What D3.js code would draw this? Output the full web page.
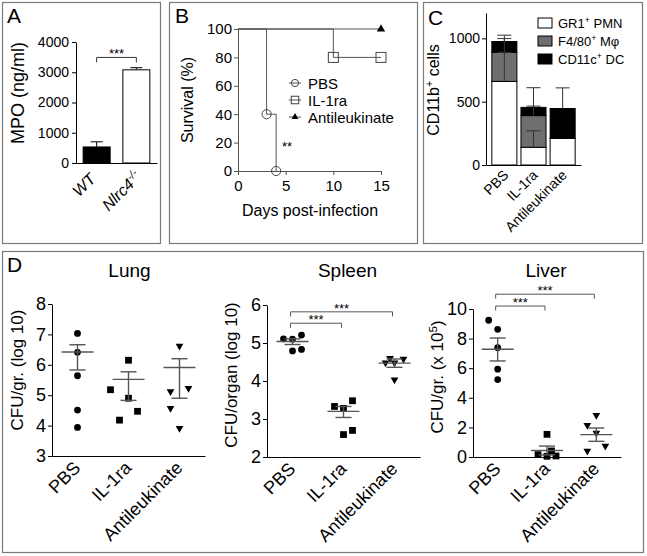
<!DOCTYPE html>
<html><head><meta charset="utf-8">
<script src="https://cdn.jsdelivr.net/npm/d3@7"></script>
<style>
body{margin:0;background:#fff;}
svg{display:block;font-family:"Liberation Sans", Arial, Helvetica, sans-serif;}
</style></head><body>
<svg id="fig" width="647" height="556"></svg>
<script>
// ---------- DATA ----------
// Panel A
const mpoGroups = ["WT", "Nlrc4"];
const mpoValues = [530, 3080];
const mpoErrors = [170, 70];
const mpoTicks = [0, 1000, 2000, 3000, 4000];
const mpoSigLevel = 3490;

// Panel B (Kaplan-Meier steps)
const pbsDays = [0, 3, 4];
const pbsSurvival = [100, 40, 0];
const il1raDays = [0, 10, 15];
const il1raSurvival = [100, 80, 80];
const antiDays = [0, 15];
const antiSurvival = [100, 100];
const dayTicks = [0, 5, 10, 15];
const survivalTicks = [0, 20, 40, 60, 80, 100];
const survivalLegend = ["PBS", "IL-1ra", "Antileukinate"];

// Panel C (stacked bars)
const cellGroups = ["PBS", "IL-1ra", "Antileukinate"];
const gr1Cells = [660, 140, 210];
const gr1Err = [230, 130, 0];
const f480Cells = [230, 250, 0];
const f480Err = [108, 75, 0];
const cd11cCells = [85, 65, 236];
const cd11cErr = [50, 155, 163];
const cellTicks = [0, 500, 1000];

// Panel D
const treatments = ["PBS", "IL-1ra", "Antileukinate"];
const lungValues = [[7.03, 6.41, 5.64, 4.51, 3.94], [6.15, 5.18, 4.90, 4.47, 4.18], [6.62, 5.23, 5.12, 4.57, 3.91]];
const lungSlots = [[0, 0, 0, 0, 0], [0, -2, 0, 1, -1], [0, 1, -1, -1, 0]];
const lungMean = [6.42, 5.52, 5.91];
const lungHi = [6.66, 5.77, 6.20];
const lungLo = [5.83, 4.83, 4.90];
const lungTicks = [3, 4, 5, 6, 7, 8];

const spleenValues = [[5.11, 5.10, 5.21, 4.79, 4.83], [3.33, 3.28, 3.48, 2.70, 2.59], [4.60, 4.58, 4.48, 4.48, 4.03]];
const spleenSlots = [[-1, 0, 1, 0, 1], [-1, 0, 1, 1, 0], [-0.5, 1, -1, 0, 0]];
const spleenMean = [5.04, 3.20, 4.47];
const spleenHi = [5.11, 3.33, 4.58];
const spleenLo = [4.96, 3.04, 4.36];
const spleenTicks = [2, 3, 4, 5, 6];
const spleenSig = [[0, 2, 5.82], [0, 1, 5.52]];

const liverValues = [[9.24, 8.63, 7.39, 5.93, 5.23], [1.53, 0.16, 0.05, 0.07, 0.41], [2.82, 2.14, 1.62, 0.74, 0.41]];
const liverSlots = [[-1, 0, 0, 0, 0], [0, -1, 0, 1, 0.5], [0, -1, 0, 1, -1]];
const liverMean = [7.28, 0.44, 1.51];
const liverHi = [8.04, 0.74, 1.96];
const liverLo = [6.49, 0.14, 1.06];
const liverTicks = [0, 2, 4, 6, 8, 10];
const liverSig = [[0, 2, 11.0], [0, 1, 10.2]];

// ---------- DRAWING ----------
const FONT = '"Liberation Sans", Arial, Helvetica, sans-serif';
const svg = d3.select("#fig");
const fmt = d3.format("d");

function rich(sel, parts, fs) {
  let shift = 0;
  parts.forEach(p => {
    const ts = sel.append("tspan").text(p.t);
    if (p.sup) { ts.attr("font-size", fs * 0.68).attr("dy", -fs * 0.38); shift = fs * 0.38; }
    else if (shift) { ts.attr("dy", shift); shift = 0; }
  });
}
function styleAxis(g, color, fs) {
  g.attr("font-family", FONT).attr("font-size", fs);
  g.selectAll("path,line").attr("stroke", color).attr("stroke-width", 1);
  g.selectAll("text").attr("fill", "#000");
}
function vTitle(x, y, fs, parts) {
  const t = svg.append("text").attr("transform", `translate(${x},${y}) rotate(-90)`)
    .attr("text-anchor", "middle").attr("font-size", fs);
  rich(t, parts, fs);
  return t;
}
function rotLabel(x, y, fs, parts, italic) {
  const t = svg.append("text").attr("transform", `translate(${x},${y}) rotate(-45)`)
    .attr("text-anchor", "end").attr("font-size", fs);
  if (italic) t.attr("font-style", "italic");
  rich(t, parts, fs);
}

// frames
[[2.5, 2.5, 158, 241], [169.5, 2.5, 248, 241], [423.5, 2.5, 219, 241], [2.5, 251.5, 641, 301]]
  .forEach(f => svg.append("rect").attr("x", f[0]).attr("y", f[1]).attr("width", f[2]).attr("height", f[3])
    .attr("fill", "none").attr("stroke", "#7a7a7a").attr("stroke-width", 1.2));
[["A", 7, 23], ["B", 175, 23], ["C", 428, 25], ["D", 7, 272]].forEach(l =>
  svg.append("text").attr("x", l[1]).attr("y", l[2]).attr("font-size", 21).text(l[0]));

// ---- Panel A ----
(function () {
  const y = d3.scaleLinear([0, 4000], [163, 42]);
  const x = d3.scaleBand(mpoGroups, [76, 157]).paddingInner(0.32).paddingOuter(0.18);
  const ga = svg.append("g").attr("transform", "translate(76,0)")
    .call(d3.axisLeft(y).tickValues(mpoTicks).tickSize(4).tickPadding(3).tickSizeOuter(0).tickFormat(fmt));
  styleAxis(ga, "#000", 14);
  const gx = svg.append("g").attr("transform", "translate(0,163)")
    .call(d3.axisBottom(x).tickValues([]).tickSizeOuter(0));
  styleAxis(gx, "#000", 14);
  mpoGroups.forEach((g, i) => {
    const cx = x(g) + x.bandwidth() / 2;
    svg.append("line").attr("x1", cx).attr("x2", cx).attr("y1", y(mpoValues[i])).attr("y2", y(mpoValues[i] + mpoErrors[i])).attr("stroke", "#000");
    svg.append("line").attr("x1", cx - 6).attr("x2", cx + 6).attr("y1", y(mpoValues[i] + mpoErrors[i])).attr("y2", y(mpoValues[i] + mpoErrors[i])).attr("stroke", "#000");
    svg.append("rect").attr("x", x(g)).attr("width", x.bandwidth()).attr("y", y(mpoValues[i])).attr("height", y(0) - y(mpoValues[i]))
      .attr("fill", i === 0 ? "#000" : "#fff").attr("stroke", "#000");
  });
  const x1 = x(mpoGroups[0]) + x.bandwidth() / 2, x2 = x(mpoGroups[1]) + x.bandwidth() / 2, yl = y(mpoSigLevel);
  svg.append("path").attr("d", `M${x1},${yl + 5}V${yl}H${x2}V${yl + 5}`).attr("fill", "none").attr("stroke", "#333");
  svg.append("text").attr("x", (x1 + x2) / 2).attr("y", yl + 1).attr("text-anchor", "middle").attr("font-size", 13).text("***");
  vTitle(24, 93, 18, [{ t: "MPO (ng/ml)" }]);
  rotLabel(x1, 180, 16, [{ t: "WT" }], true);
  rotLabel(x2 + 6, 178, 16, [{ t: "Nlrc4" }, { t: "-/-", sup: true }], true);
})();

// ---- Panel B ----
(function () {
  const x = d3.scaleLinear([0, 15], [238, 381]);
  const y = d3.scaleLinear([0, 100], [171, 29]);
  const gy = svg.append("g").attr("transform", "translate(238,0)")
    .call(d3.axisLeft(y).tickValues(survivalTicks).tickSize(4).tickPadding(2).tickSizeOuter(0).tickFormat(fmt));
  styleAxis(gy, "#555", 15);
  const gx = svg.append("g").attr("transform", "translate(0,171)")
    .call(d3.axisBottom(x).tickValues(dayTicks).tickSize(4).tickPadding(5).tickSizeOuter(0).tickFormat(fmt));
  styleAxis(gx, "#555", 15);
  const line = d3.line().x(d => x(d[0])).y(d => y(d[1])).curve(d3.curveStepAfter);
  const series = [
    { days: pbsDays, surv: pbsSurvival, sym: "circle" },
    { days: il1raDays, surv: il1raSurvival, sym: "square" },
    { days: antiDays, surv: antiSurvival, sym: "triangle" }];
  series.forEach(s => {
    const pts = s.days.map((d, i) => [d, s.surv[i]]);
    svg.append("path").attr("d", line(pts)).attr("fill", "none").attr("stroke", "#555").attr("stroke-width", 1);
  });
  function marker(sym, cx, cy, big) {
    if (sym === "circle") svg.append("circle").attr("cx", cx).attr("cy", cy).attr("r", big ? 4.6 : 3.6).attr("fill", "none").attr("stroke", "#444");
    else if (sym === "square") { const s = big ? 10 : 7.5; svg.append("rect").attr("x", cx - s / 2).attr("y", cy - s / 2).attr("width", s).attr("height", s).attr("fill", "none").attr("stroke", "#444"); }
    else svg.append("path").attr("transform", `translate(${cx},${cy})`).attr("d", d3.symbol(d3.symbolTriangle, big ? 30 : 20)()).attr("fill", "#000");
  }
  series.forEach(s => s.days.forEach((d, i) => { if (i > 0) marker(s.sym, x(d), y(s.surv[i]), true); }));
  svg.append("text").attr("x", 282).attr("y", 151).attr("font-size", 13).text("**");
  // legend
  survivalLegend.forEach((name, i) => {
    const ly = 83 + i * 17;
    svg.append("line").attr("x1", 289).attr("x2", 301).attr("y1", ly).attr("y2", ly).attr("stroke", "#555");
    marker(series[i].sym, 295, ly, false);
    svg.append("text").attr("x", 308).attr("y", ly + 5.5).attr("font-size", 15).text(name);
  });
  vTitle(193, 100, 16, [{ t: "Survival (%)" }]);
  svg.append("text").attr("x", 310).attr("y", 216).attr("text-anchor", "middle").attr("font-size", 16).text("Days post-infection");
})();

// ---- Panel C ----
(function () {
  const y = d3.scaleLinear([0, 1200], [165, 13]);
  const x = d3.scaleBand(cellGroups, [486, 581]).paddingInner(0.14).paddingOuter(0.2);
  const gy = svg.append("g").attr("transform", "translate(486,0)")
    .call(d3.axisLeft(y).tickValues(cellTicks).tickSize(4).tickPadding(2).tickSizeOuter(0).tickFormat(fmt));
  styleAxis(gy, "#000", 14);
  const gx = svg.append("g").attr("transform", "translate(0,165)")
    .call(d3.axisBottom(x).tickValues([]).tickSizeOuter(0));
  styleAxis(gx, "#000", 14);
  const table = cellGroups.map((g, i) => ({ group: g, gr1: gr1Cells[i], f480: f480Cells[i], cd11c: cd11cCells[i] }));
  const errs = { gr1: gr1Err, f480: f480Err, cd11c: cd11cErr };
  const keys = ["gr1", "f480", "cd11c"];
  const fills = { gr1: "#fff", f480: "#6e6e6e", cd11c: "#000" };
  const stack = d3.stack().keys(keys)(table);
  stack.forEach(layer => layer.forEach(d => {
    if (d[1] - d[0] <= 0) return;
    svg.append("rect").attr("x", x(d.data.group)).attr("width", x.bandwidth())
      .attr("y", y(d[1])).attr("height", y(d[0]) - y(d[1])).attr("fill", fills[layer.key]).attr("stroke", "#000");
  }));
  stack.forEach(layer => layer.forEach((d, i) => {
    const e = errs[layer.key][i];
    if (!e) return;
    const cx = x(d.data.group) + x.bandwidth() / 2;
    svg.append("line").attr("x1", cx).attr("x2", cx).attr("y1", y(d[1])).attr("y2", y(d[1] + e)).attr("stroke", "#333");
    svg.append("line").attr("x1", cx - 7).attr("x2", cx + 7).attr("y1", y(d[1] + e)).attr("y2", y(d[1] + e)).attr("stroke", "#333");
  }));
  const legend = [[{ t: "GR1" }, { t: "+", sup: true }, { t: " PMN" }], [{ t: "F4/80" }, { t: "+", sup: true }, { t: " Mφ" }], [{ t: "CD11c" }, { t: "+", sup: true }, { t: " DC" }]];
  keys.forEach((k, i) => {
    const ly = 23 + i * 18;
    svg.append("rect").attr("x", 538).attr("y", ly - 5).attr("width", 14).attr("height", 10).attr("fill", fills[k]).attr("stroke", "#000");
    const t = svg.append("text").attr("x", 558).attr("y", ly + 5).attr("font-size", 13);
    rich(t, legend[i], 13);
  });
  vTitle(439, 90, 16, [{ t: "CD11b" }, { t: "+", sup: true }, { t: " cells" }]);
  cellGroups.forEach(g => rotLabel(x(g) + x.bandwidth() / 2 + 5, 176, 14, [{ t: g }]));
})();

// ---- Panel D ----
function drawOrgan(cfg) {
  const x = d3.scalePoint(treatments, cfg.xRange).padding(0.5);
  const y = d3.scaleLinear(cfg.yDomain, cfg.yRange);
  const gy = svg.append("g").attr("transform", `translate(${cfg.xRange[0]},0)`)
    .call(d3.axisLeft(y).tickValues(cfg.ticks).tickSize(4).tickPadding(2).tickSizeOuter(0).tickFormat(fmt));
  styleAxis(gy, "#000", 18);
  const gx = svg.append("g").attr("transform", `translate(0,${cfg.yRange[0]})`)
    .call(d3.axisBottom(x).tickValues([]).tickSizeOuter(0));
  styleAxis(gx, "#000", 18);
  const syms = [d3.symbolCircle, d3.symbolSquare, d3.symbolTriangle];
  const sizes = [36, 46, 26];
  treatments.forEach((t, i) => {
    const cx = x(t);
    cfg.values[i].forEach((v, j) => {
      svg.append("path").attr("d", d3.symbol(syms[i], sizes[i])())
        .attr("transform", `translate(${cx + cfg.slots[i][j] * 9},${y(v)})${i === 2 ? " rotate(180)" : ""}`)
        .attr("fill", "#000");
    });
    const my = y(cfg.mean[i]), hy = y(cfg.hi[i]), ly = y(cfg.lo[i]);
    [[cx - 16, my, cx + 16, my], [cx, hy, cx, ly], [cx - 8, hy, cx + 8, hy], [cx - 8, ly, cx + 8, ly]].forEach(s =>
      svg.append("line").attr("x1", s[0]).attr("y1", s[1]).attr("x2", s[2]).attr("y2", s[3]).attr("stroke", "#555").attr("stroke-width", 1.4));
  });
  (cfg.sig || []).forEach(s => {
    const x1 = x(treatments[s[0]]) - 2, x2 = x(treatments[s[1]]) - 2, yl = y(s[2]);
    svg.append("path").attr("d", `M${x1},${yl + 4.5}V${yl}H${x2}V${yl + 4.5}`).attr("fill", "none").attr("stroke", "#555");
    svg.append("text").attr("x", (x1 + x2) / 2).attr("y", yl + 1).attr("text-anchor", "middle").attr("font-size", 13).text("***");
  });
  svg.append("text").attr("x", (cfg.xRange[0] + cfg.xRange[1]) / 2 + cfg.titleDx).attr("y", 277).attr("text-anchor", "middle").attr("font-size", 19).text(cfg.title);
  vTitle(cfg.yTitleX, cfg.yTitleY, 17, cfg.yTitle);
  treatments.forEach(t => rotLabel(x(t) + 4, cfg.yRange[0] + 13, 18, [{ t: t }]));
}
drawOrgan({ title: "Lung", titleDx: 1, xRange: [52, 205], yDomain: [3, 8], yRange: [456, 304], ticks: lungTicks,
  values: lungValues, slots: lungSlots, mean: lungMean, hi: lungHi, lo: lungLo,
  yTitleX: 23, yTitleY: 370, yTitle: [{ t: "CFU/gr. (log 10)" }] });
drawOrgan({ title: "Spleen", titleDx: 4, xRange: [267, 420], yDomain: [2, 6], yRange: [457, 305], ticks: spleenTicks,
  values: spleenValues, slots: spleenSlots, mean: spleenMean, hi: spleenHi, lo: spleenLo, sig: spleenSig,
  yTitleX: 237, yTitleY: 375, yTitle: [{ t: "CFU/organ (log 10)" }] });
drawOrgan({ title: "Liver", titleDx: -1, xRange: [473, 621], yDomain: [0, 10], yRange: [457, 309], ticks: liverTicks,
  values: liverValues, slots: liverSlots, mean: liverMean, hi: liverHi, lo: liverLo, sig: liverSig,
  yTitleX: 443, yTitleY: 377, yTitle: [{ t: "CFU/gr. (x 10" }, { t: "5", sup: true }, { t: ")" }] });
</script></body></html>
